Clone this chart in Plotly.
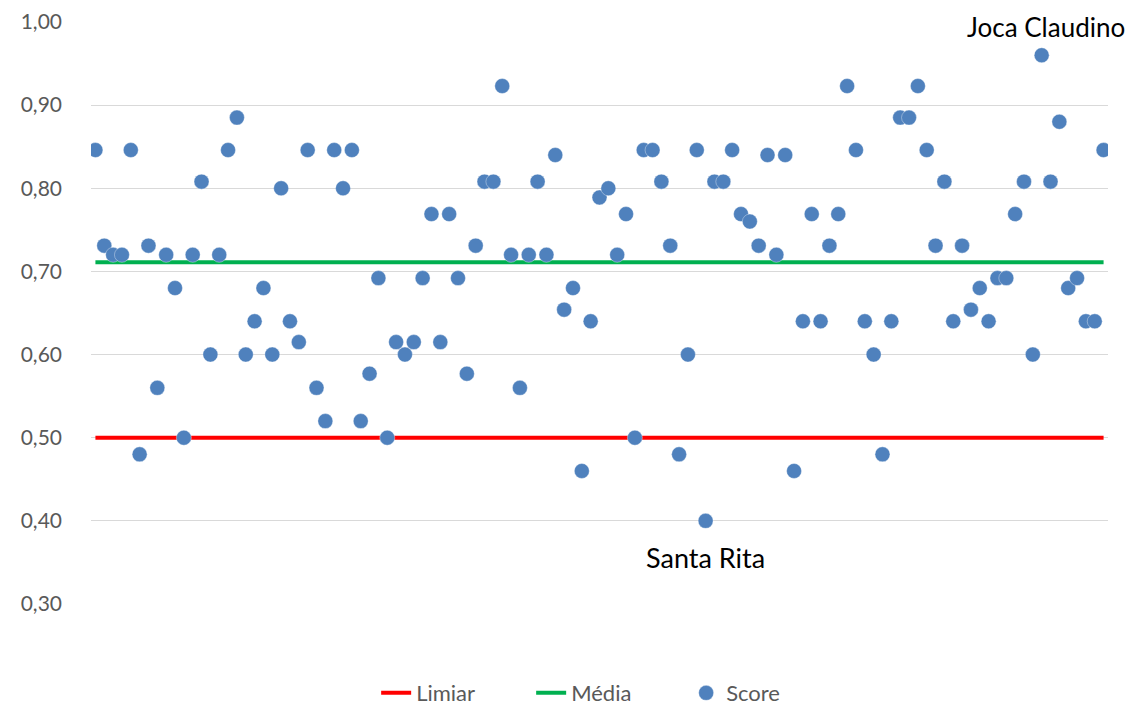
import plotly.graph_objects as go

# Data
municipios = list(range(1, 116))
score = [
    0.846, 0.731, 0.720, 0.720, 0.846, 0.480, 0.731, 0.560, 0.720, 0.680,
    0.500, 0.720, 0.808, 0.600, 0.720, 0.846, 0.885, 0.600, 0.640, 0.680,
    0.600, 0.800, 0.640, 0.615, 0.846, 0.560, 0.520, 0.846, 0.800, 0.846,
    0.520, 0.577, 0.692, 0.500, 0.615, 0.600, 0.615, 0.692, 0.769, 0.615,
    0.769, 0.692, 0.577, 0.731, 0.808, 0.808, 0.923, 0.720, 0.560, 0.720,
    0.808, 0.720, 0.840, 0.654, 0.680, 0.460, 0.640, 0.789, 0.800, 0.720,
    0.769, 0.500, 0.846, 0.846, 0.808, 0.731, 0.480, 0.600, 0.846, 0.400,
    0.808, 0.808, 0.846, 0.769, 0.760, 0.731, 0.840, 0.720, 0.840, 0.460,
    0.640, 0.769, 0.640, 0.731, 0.769, 0.923, 0.846, 0.640, 0.600, 0.480,
    0.640, 0.885, 0.885, 0.923, 0.846, 0.731, 0.808, 0.640, 0.731, 0.654,
    0.680, 0.640, 0.692, 0.692, 0.769, 0.808, 0.600, 0.960, 0.808, 0.880,
    0.680, 0.692, 0.640, 0.640, 0.846,
]
limiar_valor = 0.50
media_valor = 0.711
limiar = [limiar_valor] * len(municipios)
media = [media_valor] * len(municipios)

destaques = [(70, "Santa Rita", -37, 0, 27), (108, "Joca Claudino", 28, 4, 26)]

ytick_vals = [0.3, 0.4, 0.5, 0.6, 0.7, 0.8, 0.9, 1.0]
ytick_text = ["0,30", "0,40", "0,50", "0,60", "0,70", "0,80", "0,90", "1,00"]

FONT = "Lato, Carlito, Calibri, sans-serif"
GRAY = "#595959"

fig = go.Figure()
fig.add_trace(go.Scatter(
    x=municipios, y=limiar, mode="lines", name="Limiar",
    line=dict(color="#FF0000", width=4),
))
fig.add_trace(go.Scatter(
    x=municipios, y=media, mode="lines", name="Média",
    line=dict(color="#00B050", width=4),
))
fig.add_trace(go.Scatter(
    x=municipios, y=score, mode="markers", name="Score",
    marker=dict(color="#4F81BD", size=15,
                line=dict(color="rgba(255,255,255,0.6)", width=0.6)),
))

for idx, nome, ys, xs, fs in destaques:
    fig.add_annotation(
        x=idx, y=score[idx - 1], text=nome, showarrow=False,
        yshift=ys, xshift=xs,
        font=dict(family=FONT, size=fs, color="#000000"),
    )

fig.update_layout(
    width=1125, height=697,
    margin=dict(l=83, r=25, t=14, b=101, autoexpand=False),
    paper_bgcolor="white", plot_bgcolor="white",
    font=dict(family=FONT, color=GRAY, size=21),
    showlegend=True,
    legend=dict(
        orientation="h", x=0.509, xanchor="center",
        y=-0.153, yanchor="middle",
        font=dict(family=FONT, size=22, color=GRAY),
        entrywidth=110, entrywidthmode="pixels",
        bgcolor="rgba(0,0,0,0)",
    ),
    xaxis=dict(
        range=[0.5, 115.5], showgrid=False, showticklabels=False,
        zeroline=False, showline=False, ticks="", automargin=False,
    ),
    yaxis=dict(
        range=[0.3, 1.0], tickvals=ytick_vals, ticktext=ytick_text,
        showgrid=True, gridcolor="#D9D9D9", gridwidth=1,
        zeroline=False, showline=False, ticks="", automargin=False,
        ticklabelstandoff=28,
        tickfont=dict(family=FONT, size=21, color=GRAY),
    ),
)

fig.write_html("out.html")
